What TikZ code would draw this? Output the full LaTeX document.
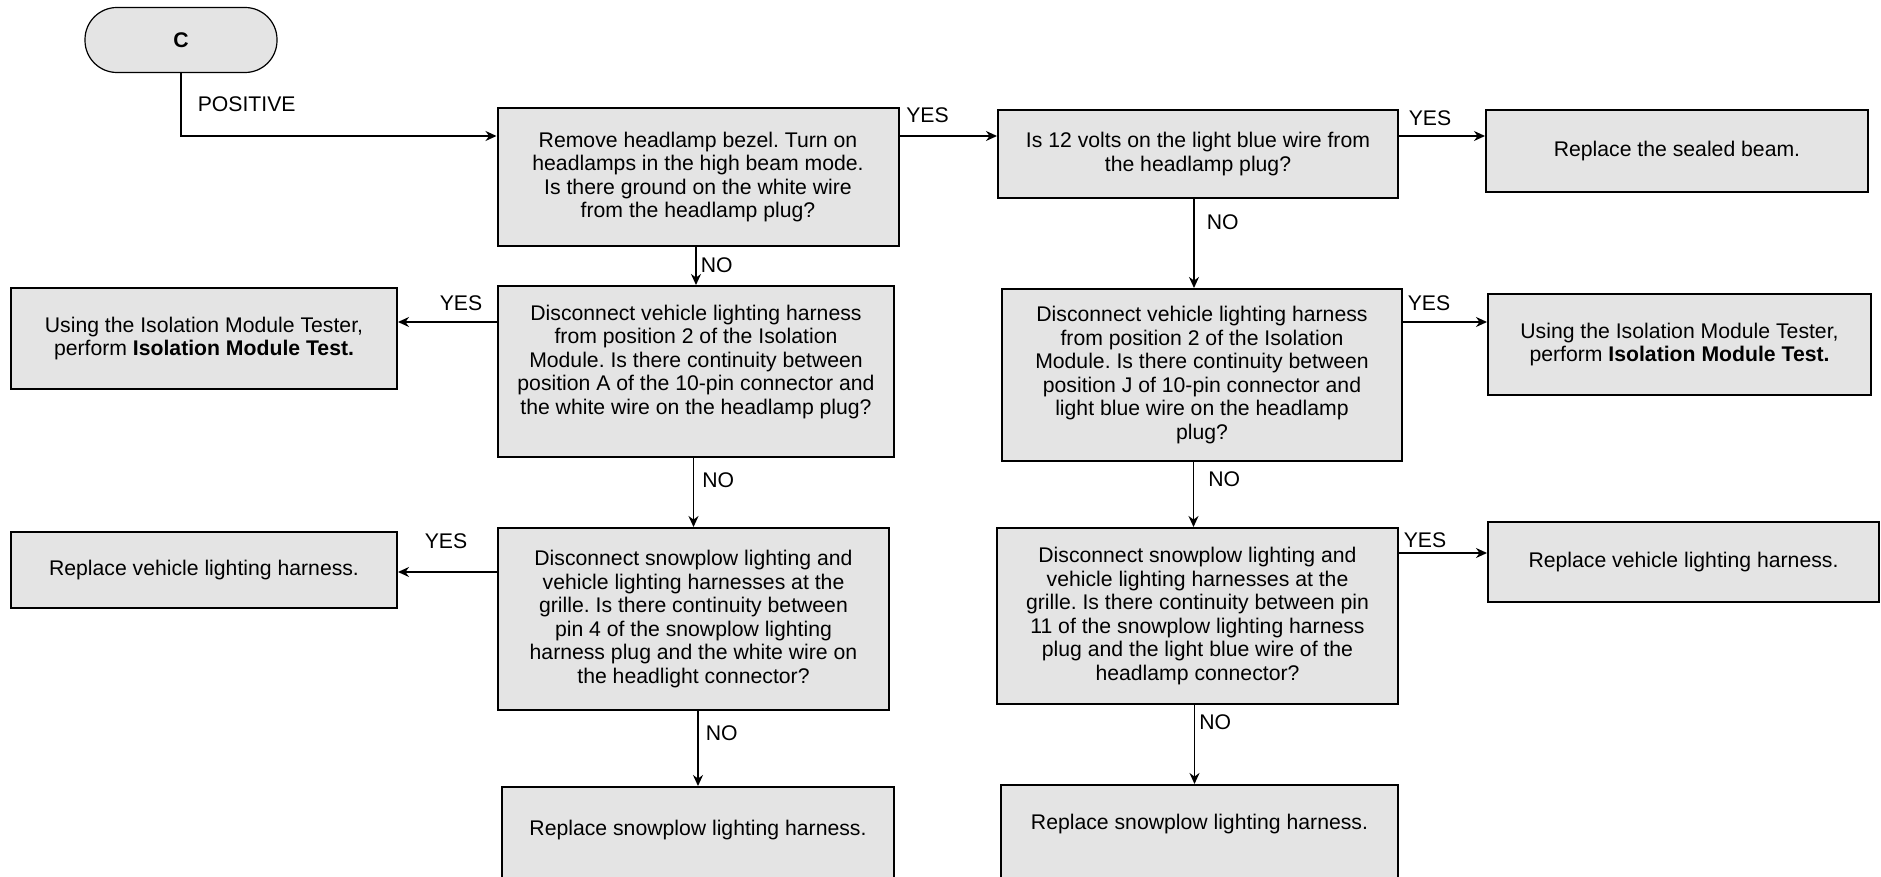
\documentclass[tikz,border=0pt]{standalone}
\usepackage{fontspec}
\setmainfont{Liberation Sans}
\usepackage{tikz}
\usetikzlibrary{arrows.meta, positioning, calc}
\definecolor{boxgray}{RGB}{228,228,228}
\newcommand{\chartfont}{\fontsize{10.6pt}{11.8pt}\selectfont}
\tikzstyle{arrow} = [line width=0.8pt, -{Stealth[length=5.5pt,width=5pt]}]
\frenchspacing

\begin{document}
\begin{tikzpicture}[x=0.5pt, y=-0.5pt, font=\chartfont,
	check/.style={rectangle, draw=black, line width=1pt, fill=boxgray, align=center, inner sep=2pt},
	terminal/.style={rectangle, draw=black, line width=0.6pt, fill=boxgray, rounded corners=16pt, minimum width=96pt, minimum height=32.5pt, font=\chartfont\bfseries},
	lbl/.style={inner sep=0pt}
]
\useasboundingbox (0,0) rectangle (1881,877);

% Start
\node[terminal] (start) at (181,40) {C};

% Ground check column
\node[check, minimum width=200.5pt, minimum height=69pt] (q1) at (698,177) {Remove headlamp bezel. Turn on\\headlamps in the high beam mode.\\Is there ground on the white wire\\from the headlamp plug?};
\node[check, minimum width=198pt, minimum height=85.5pt] (q3) at (696,371.5) {Disconnect vehicle lighting harness\\from position 2 of the Isolation\\Module. Is there continuity between\\position A of the 10-pin connector and\\the white wire on the headlamp plug?\\\mbox{}};
\node[check, minimum width=195.5pt, minimum height=91pt] (q5) at (693.5,619) {Disconnect snowplow lighting and\\vehicle lighting harnesses at the\\grille. Is there continuity between\\pin 4 of the snowplow lighting\\harness plug and the white wire on\\the headlight connector?};
\node[check, anchor=north, minimum width=196pt, text height=8pt, text depth=50pt, inner ysep=16pt] (r6) at (698,786) {Replace snowplow lighting harness.};

% Left results
\node[check, minimum width=193pt, minimum height=50.5pt] (r2) at (204,338.5) {Using the Isolation Module Tester,\\perform \textbf{Isolation Module Test.}};
\node[check, minimum width=193pt, minimum height=38pt] (r4) at (204,570) {Replace vehicle lighting harness.};

% 12 volt check column
\node[check, minimum width=200pt, minimum height=44pt] (q2) at (1198,154) {Is 12 volts on the light blue wire from\\the headlamp plug?};
\node[check, minimum width=200pt, minimum height=86pt] (q4) at (1202,375) {Disconnect vehicle lighting harness\\from position 2 of the Isolation\\Module. Is there continuity between\\position J of 10-pin connector and\\light blue wire on the headlamp\\plug?};
\node[check, minimum width=200.5pt, minimum height=88pt] (q6) at (1197.5,616) {Disconnect snowplow lighting and\\vehicle lighting harnesses at the\\grille. Is there continuity between pin\\11 of the snowplow lighting harness\\plug and the light blue wire of the\\headlamp connector?};
\node[check, anchor=north, minimum width=198.5pt, text height=8pt, text depth=50pt, inner ysep=14pt] (r7) at (1199.5,784) {Replace snowplow lighting harness.};

% Right results
\node[check, minimum width=191pt, minimum height=41pt] (r1) at (1677,151) {Replace the sealed beam.};
\node[check, minimum width=191.5pt, minimum height=50.5pt] (r3) at (1679.5,344.5) {Using the Isolation Module Tester,\\perform \textbf{Isolation Module Test.}};
\node[check, minimum width=195.5pt, minimum height=40pt] (r5) at (1683.5,562) {Replace vehicle lighting harness.};

% Entry
\draw[arrow] (start.south) |- ([yshift=20.5pt]q1.west)
	node[pos=0.25, anchor=west, xshift=8pt, lbl] {POSITIVE};

% YES branches
\coordinate (q2in) at ([yshift=9pt]q2.west);
\draw[arrow] (q1.east |- q2in) -- (q2in)
	node[pos=0, anchor=south west, xshift=3pt, yshift=6.2pt, lbl] {YES};
\coordinate (r1in) at ([yshift=7.5pt]r1.west);
\draw[arrow] (q2.east |- r1in) -- (r1in)
	node[pos=0, anchor=south west, xshift=4.5pt, yshift=4.7pt, lbl] {YES};
\coordinate (q3out) at ([yshift=24.75pt]q3.west);
\draw[arrow] (q3out) -- (r2.east |- q3out)
	node[pos=0, anchor=south east, xshift=-7pt, yshift=5.2pt, lbl] {YES};
\coordinate (q4out) at ([yshift=26.5pt]q4.east);
\draw[arrow] (q4out) -- (r3.west |- q4out)
	node[pos=0, anchor=south west, xshift=2pt, yshift=5.2pt, lbl] {YES};
\coordinate (q5out) at ([yshift=23.5pt]q5.west);
\draw[arrow] (q5out) -- (r4.east |- q5out)
	node[pos=0, anchor=south east, xshift=-14.5pt, yshift=11.2pt, lbl] {YES};
\coordinate (q6out) at ([yshift=31.5pt]q6.east);
\draw[arrow] (q6out) -- (r5.west |- q6out)
	node[pos=0, anchor=south west, xshift=2pt, yshift=2.2pt, lbl] {YES};

% NO branches
\draw[arrow] (q3.north |- q1.south) -- (q3.north)
	node[pos=0.48, anchor=west, xshift=2pt, lbl] {NO};
\draw[arrow] (q5.north |- q3.south) -- (q5.north)
	node[pos=0.32, anchor=west, xshift=4pt, lbl] {NO};
\draw[arrow] (r6.north |- q5.south) -- (r6.north)
	node[pos=0.29, anchor=west, xshift=3.5pt, lbl] {NO};
\draw[arrow] ([xshift=-2pt]q2.south) -- ([xshift=-2pt]q2.south |- q4.north)
	node[pos=0.26, anchor=west, xshift=6pt, lbl] {NO};
\draw[arrow] ([xshift=-2pt]q6.north |- q4.south) -- ([xshift=-2pt]q6.north)
	node[pos=0.27, anchor=west, xshift=7pt, lbl] {NO};
\draw[arrow] ([xshift=-2.5pt]r7.north |- q6.south) -- ([xshift=-2.5pt]r7.north)
	node[pos=0.22, anchor=west, xshift=2pt, lbl] {NO};

\end{tikzpicture}
\end{document}
